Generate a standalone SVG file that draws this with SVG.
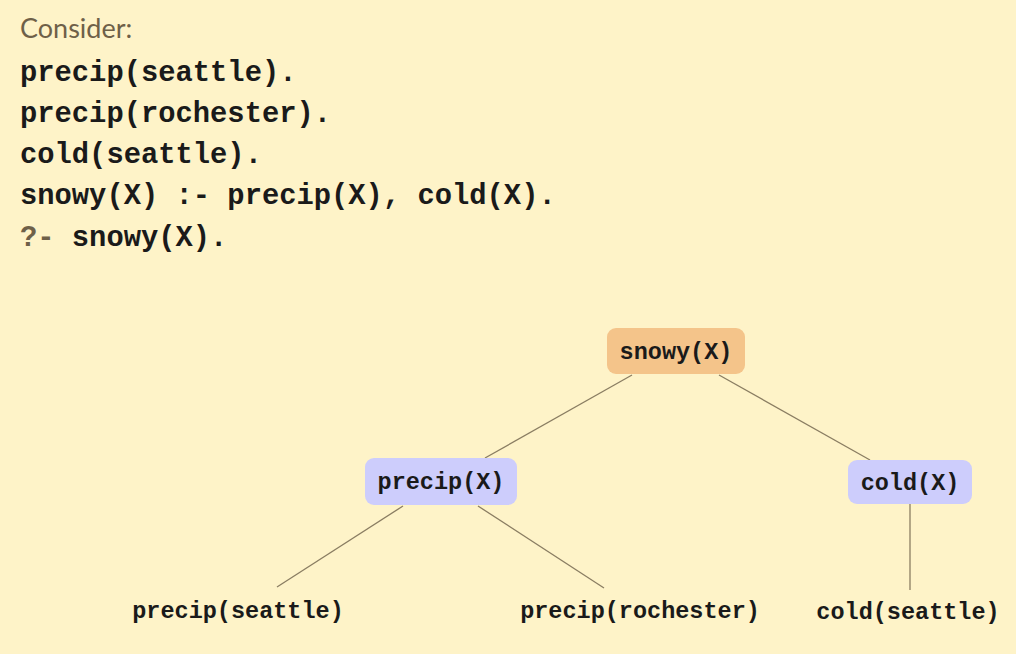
<svg xmlns="http://www.w3.org/2000/svg" width="1016" height="654" viewBox="0 0 1016 654">
<style>
.code{font-family:"Liberation Mono","DejaVu Sans Mono",monospace;font-size:28.8px;font-weight:bold;fill:#1a1a1a}
.muted{fill:#6e6048}
.lbl{font-family:"Liberation Mono","DejaVu Sans Mono",monospace;font-size:23.5px;font-weight:bold;fill:#1a1a1a;text-anchor:middle}
.edge{stroke:#8a7d62;stroke-width:1.3;fill:none}
</style>
<rect width="1016" height="654" fill="#fef3c8"/>
<text x="20" y="38" font-family="Lato,'Open Sans',sans-serif" font-size="27" class="muted">Consider:</text>
<text class="code" x="20" y="81">precip(seattle).</text>
<text class="code" x="20" y="122">precip(rochester).</text>
<text class="code" x="20" y="163">cold(seattle).</text>
<text class="code" x="20" y="204">snowy(X) :- precip(X), cold(X).</text>
<text class="code" x="20" y="246"><tspan class="muted">?-</tspan> snowy(X).</text>
<g id="connectors">
<line class="edge" x1="632" y1="375" x2="485" y2="458"/>
<line class="edge" x1="719" y1="375" x2="870" y2="460"/>
<line class="edge" x1="403" y1="506" x2="277" y2="587"/>
<line class="edge" x1="478" y1="506" x2="604" y2="588"/>
<line class="edge" x1="910" y1="504" x2="910" y2="590"/>
</g>
<g id="n-snowy">
<rect x="607" y="328" width="138" height="46" rx="9" fill="#f4c48a"/>
<text class="lbl" x="676" y="359">snowy(X)</text>
</g>
<g id="n-precip">
<rect x="365" y="458" width="152" height="47" rx="9" fill="#cdcdfc"/>
<text class="lbl" x="441" y="489">precip(X)</text>
</g>
<g id="n-cold">
<rect x="848" y="460" width="124" height="44" rx="9" fill="#cdcdfc"/>
<text class="lbl" x="910" y="490">cold(X)</text>
</g>
<g id="n-ps">
<text class="lbl" x="238" y="618">precip(seattle)</text>
</g>
<g id="n-pr">
<text class="lbl" x="640" y="618">precip(rochester)</text>
</g>
<g id="n-cs">
<text class="lbl" x="908" y="619">cold(seattle)</text>
</g>
</svg>
